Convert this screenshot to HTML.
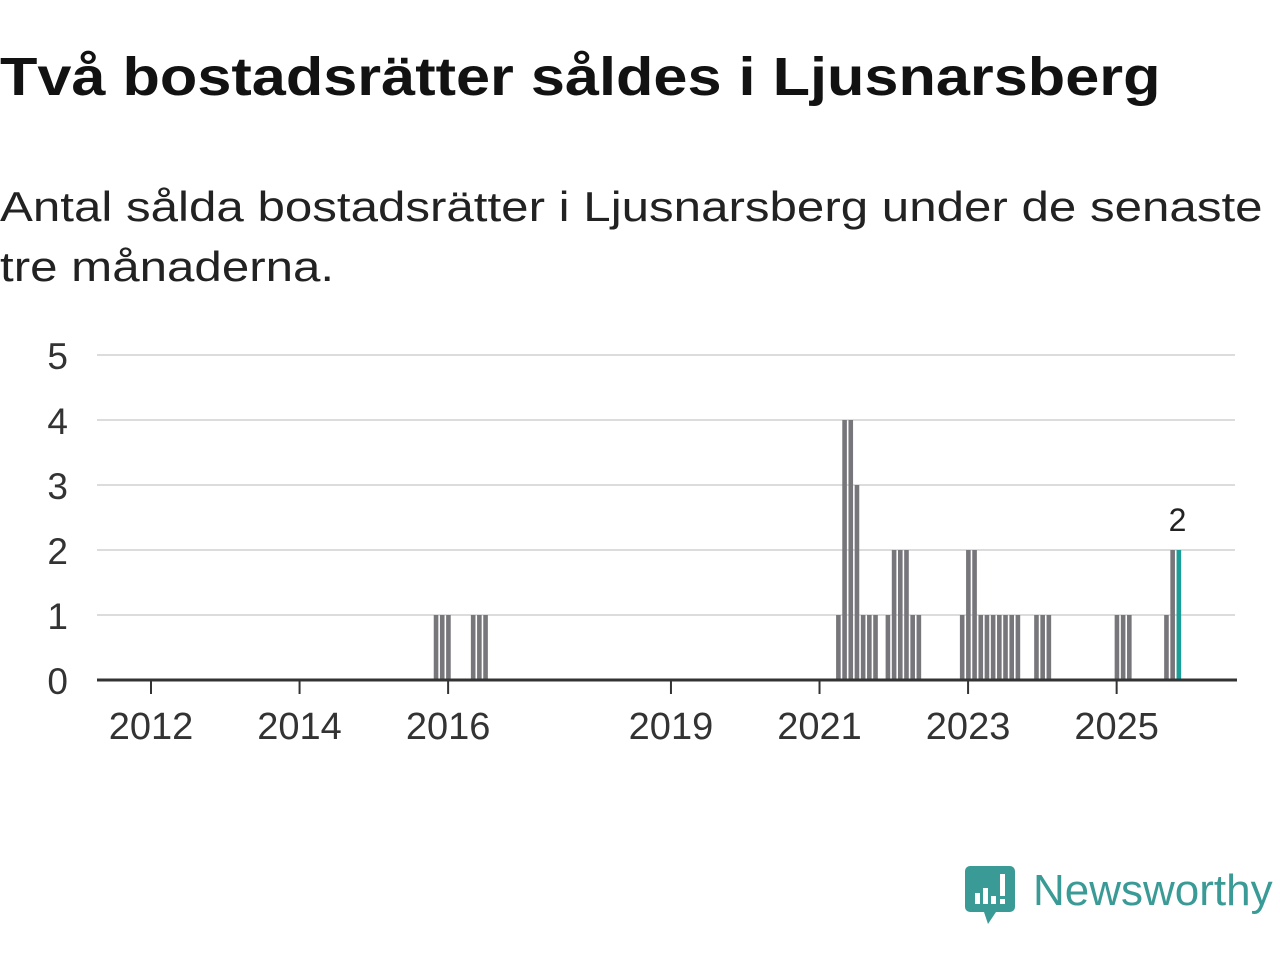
<!DOCTYPE html>
<html><head><meta charset="utf-8"><style>
body{margin:0;background:#fff;width:1280px;height:960px;overflow:hidden;font-family:"Liberation Sans",sans-serif}
.ln{position:absolute;left:0;white-space:nowrap;transform-origin:0 0;margin:0}
#t{top:46px;font-size:54px;font-weight:bold;color:#121212;transform:scaleX(1.134)}
.s{font-size:42px;color:#222;transform:scaleX(1.173)}
svg{position:absolute;left:0;top:0}
</style></head><body>
<h1 id="t" class="ln">Två bostadsrätter såldes i Ljusnarsberg</h1>
<div>
<div class="ln s" style="top:183px">Antal sålda bostadsrätter i Ljusnarsberg under de senaste</div>
<div class="ln s" style="top:243px">tre månaderna.</div>
</div>
<svg id="c" width="1280" height="960"></svg>
<script>
const months=[46,47,48,52,53,54,111,112,113,114,115,116,117,119,120,121,122,123,124,131,132,133,134,135,136,137,138,139,140,143,144,145,156,157,158,164,165,166];
const values=[1,1,1,1,1,1,1,4,4,3,1,1,1,1,2,2,2,1,1,1,2,2,1,1,1,1,1,1,1,1,1,1,1,1,1,1,2,2];
const yTicks=[0,1,2,3,4,5];
const xTickYears=[2012,2014,2016,2019,2021,2023,2025];
const NS='http://www.w3.org/2000/svg';
const svg=document.getElementById('c');
const x=m=>151+m*6.19;
const y=v=>680-v*65;
function mk(tag,attrs,txt){const e=document.createElementNS(NS,tag);for(const k in attrs)e.setAttribute(k,attrs[k]);if(txt!==undefined)e.textContent=txt;svg.appendChild(e);return e;}
yTicks.forEach(t=>{
  if(t>0){const g=mk('line',{x1:97,x2:1235,y1:y(t),y2:y(t),stroke:'#dcdcdc','stroke-width':2});
  
  }
  const l=mk('text',{x:68,y:y(t)+14,'text-anchor':'end','font-size':37,fill:'#333','font-family':'Liberation Sans, sans-serif'},t);
  
  
});
months.forEach((m,i)=>{
  const last=i===months.length-1;
  const r=mk('rect',{x:x(m)-2,y:y(values[i]),width:4.6,height:y(0)-y(values[i]),fill:last?'#1a9e98':'#77767b'});
  
  
  if(last){const lb=mk('text',{x:x(m)-1,y:y(values[i])-19,'text-anchor':'middle','font-size':32,fill:'#222','font-family':'Liberation Sans, sans-serif'},values[i]);
  
  }
});
const ax=mk('line',{x1:97,x2:1237,y1:680,y2:680,stroke:'#333','stroke-width':3});


xTickYears.forEach(yr=>{
  const px=x((yr-2012)*12);
  const tk=mk('line',{x1:px,x2:px,y1:680,y2:694,stroke:'#333','stroke-width':2});
  
  
  const tl=mk('text',{x:px,y:739,'text-anchor':'middle','font-size':38,fill:'#333','font-family':'Liberation Sans, sans-serif'},yr);
  
  
});
</script>
<svg width="1280" height="960" style="pointer-events:none">
<path d="M970 866 h40 a5 5 0 0 1 5 5 v36 a5 5 0 0 1 -5 5 h-14 l-8 12 l-4 -12 h-14 a5 5 0 0 1 -5 -5 v-36 a5 5 0 0 1 5 -5z" fill="#3a9b96"/>
<rect x="975" y="893" width="5" height="11" fill="#fff"/><rect x="983" y="888" width="5" height="16" fill="#fff"/><rect x="991" y="896" width="5" height="8" fill="#fff"/><rect x="1000" y="874" width="5" height="22" fill="#fff"/><rect x="1000" y="899" width="5" height="5" fill="#fff"/>
<text x="1033" y="905" font-size="44" fill="#3a9b96" font-family="Liberation Sans, sans-serif">Newsworthy</text>
</svg>
</body></html>
